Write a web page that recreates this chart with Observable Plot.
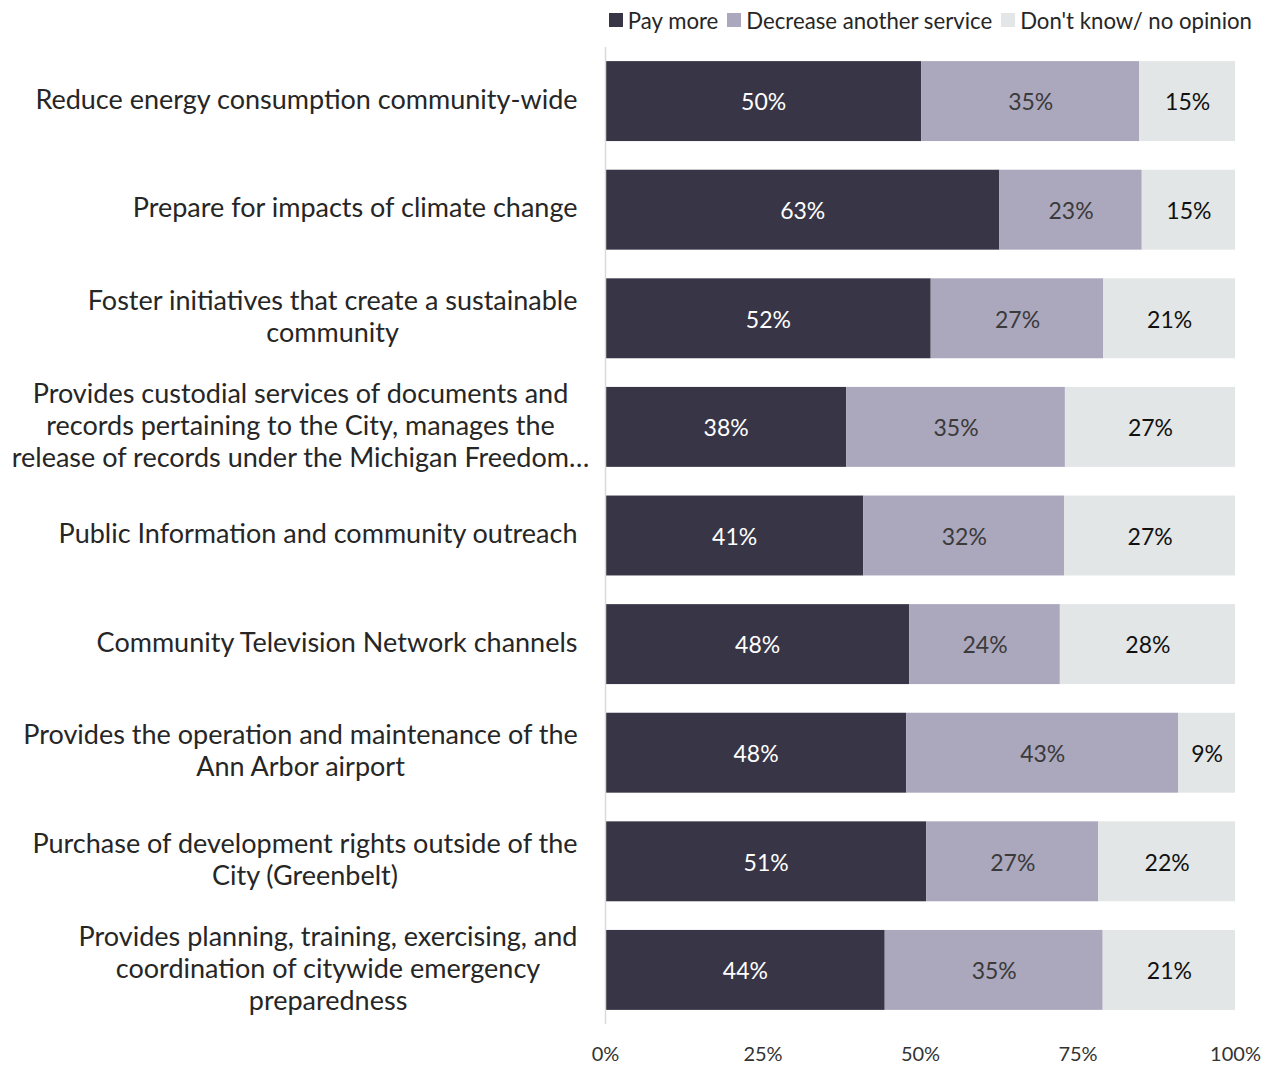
<!DOCTYPE html>
<html>
<head>
<meta charset="utf-8">
<script src="https://cdn.jsdelivr.net/npm/d3@7"></script>
<script src="https://cdn.jsdelivr.net/npm/@observablehq/plot@0.6"></script>
<style>
  body { margin: 0; background: #fff; font-family: Lato, "Open Sans", sans-serif; }
  #legend { height: 40px; display: flex; justify-content: flex-end; align-items: center; padding-right: 22px; font-size: 22.2px; color: #262626; }
  #legend .item { display: flex; align-items: center; margin-left: 9px; }
  #legend .sw { width: 14px; height: 14px; margin-right: 5px; }
</style>
</head>
<body>
<div id="legend"></div>
<div id="chart"></div>
<script>
const categories = [
  "Reduce energy consumption community-wide",
  "Prepare for impacts of climate change",
  "Foster initiatives that create a sustainable community",
  "Provides custodial services of documents and records pertaining to the City, manages the release of records under the Michigan Freedom…",
  "Public Information and community outreach",
  "Community Television Network channels",
  "Provides the operation and maintenance of the Ann Arbor airport",
  "Purchase of development rights outside of the City (Greenbelt)",
  "Provides planning, training, exercising, and coordination of citywide emergency preparedness"
];
const categoryLines = [
  "Reduce energy consumption community-wide",
  "Prepare for impacts of climate change",
  "Foster initiatives that create a sustainable\ncommunity",
  "Provides custodial services of documents and\nrecords pertaining to the City, manages the\nrelease of records under the Michigan Freedom…",
  "Public Information and community outreach",
  "Community Television Network channels",
  "Provides the operation and maintenance of the\nAnn Arbor airport",
  "Purchase of development rights outside of the\nCity (Greenbelt)",
  "Provides planning, training, exercising, and\ncoordination of citywide emergency\npreparedness"
];
const responses = ["Pay more", "Decrease another service", "Don't know/ no opinion"];
const payMore   = [50.2, 62.6, 51.7, 38.3, 41.0, 48.3, 47.8, 51.0, 44.4];
const decrease  = [34.6, 22.6, 27.4, 34.7, 31.9, 23.9, 43.2, 27.3, 34.6];
const dontKnow  = [15.2, 14.8, 20.9, 27.0, 27.1, 27.8, 9.0, 21.7, 21.0];
const xTicks = [0, 25, 50, 75, 100];
const colors = ["#383546", "#aba7bd", "#e3e6e6"];
const labelColors = ["#ffffff", "#3a3a3a", "#111111"];

const series = [payMore, decrease, dontKnow];
const data = [];
categories.forEach((c, i) => {
  responses.forEach((r, j) => data.push({category: c, response: r, value: series[j][i]}));
});
const wrapped = new Map(categories.map((c, i) => [c, categoryLines[i]]));

// legend
const legend = document.getElementById("legend");
responses.forEach((r, j) => {
  const it = document.createElement("div");
  it.className = "item";
  it.innerHTML = `<span class="sw" style="background:${colors[j]}"></span><span>${r}</span>`;
  legend.appendChild(it);
});

const font = "Lato, 'Open Sans', sans-serif";
const stackOpts = {x: "value", y: "category", z: "response", order: responses};

const chart = Plot.plot({
  width: 1274,
  height: 1026,
  marginLeft: 605,
  marginRight: 39,
  marginTop: 7,
  marginBottom: 42,
  style: {fontFamily: font, fontSize: "20px", color: "#333", background: "#fff"},
  x: {domain: [0, 100], ticks: xTicks, tickFormat: d => d + "%", tickSize: 0, tickPadding: 22, label: null},
  y: {domain: categories, paddingInner: 0.264, paddingOuter: 0.13, round: false, axis: null},
  color: {domain: responses, range: colors},
  marks: [
    Plot.barX(data, Plot.stackX({...stackOpts, fill: "response"})),
    Plot.ruleX([0], {stroke: "#d9d9d9", strokeWidth: 1.5}),
    ...responses.map((r, j) =>
      Plot.text(data, Plot.stackX({...stackOpts,
        text: d => d.response === r ? Math.round(d.value) + "%" : "",
        fill: labelColors[j], fontSize: 23, dy: 1.5}))
    ),
    Plot.text(categories, {
      x: xTicks[0], y: d => d, text: d => wrapped.get(d),
      textAnchor: "end", dx: -28, dy: -3, fontSize: 27, lineHeight: 1.185,
      fill: "#262626"
    })
  ]
});
document.getElementById("chart").appendChild(chart);

// center-align lines within each label block (right edge kept, label area limited)
const labelArea = 554;
const textGroups = chart.querySelectorAll('g[aria-label="text"]');
const labelGroup = textGroups[textGroups.length - 1];
labelGroup.querySelectorAll("text").forEach(t => {
  const w = Math.min(t.getBBox().width, labelArea);
  t.setAttribute("text-anchor", "middle");
  t.setAttribute("transform", (t.getAttribute("transform") || "") + ` translate(${-w / 2},0)`);
});
</script>
</body>
</html>
